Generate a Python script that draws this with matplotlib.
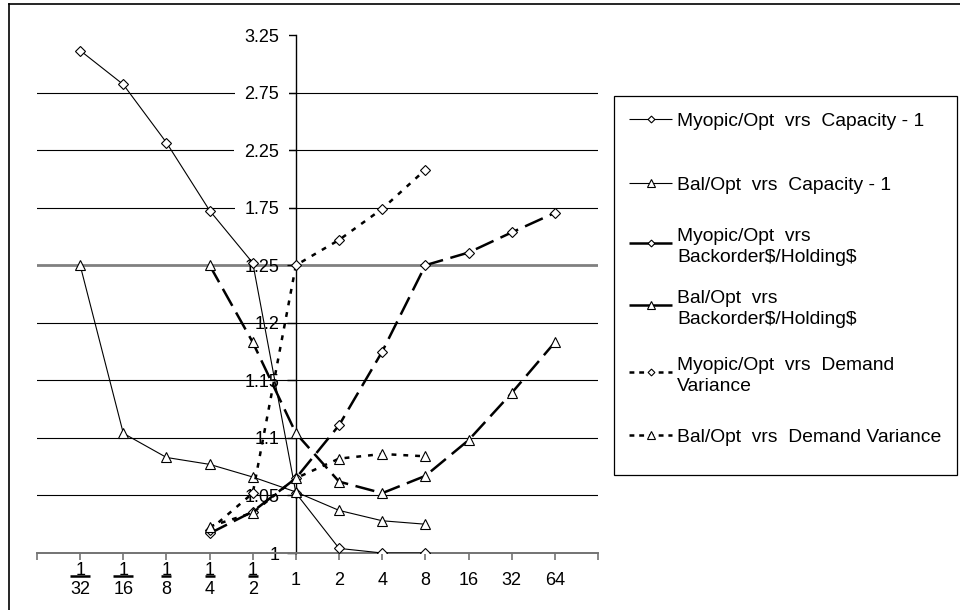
import numpy as np
import matplotlib
matplotlib.use('Agg')
import matplotlib.pyplot as plt
from matplotlib.lines import Line2D
from matplotlib.patches import Rectangle

plt.rcParams['font.family'] = ['Liberation Sans', 'DejaVu Sans']
plt.rcParams['lines.scale_dashes'] = False

# categories on the x axis
x_labels = ['1/32', '1/16', '1/8', '1/4', '1/2', '1', '2', '4', '8', '16', '32', '64']

# y axis levels (broken scale: 0.05 steps up to 1.25, then 0.5 steps)
y_levels = [1, 1.05, 1.1, 1.15, 1.2, 1.25, 1.75, 2.25, 2.75, 3.25]
y_labels = ['1', '1.05', '1.1', '1.15', '1.2', '1.25', '1.75', '2.25', '2.75', '3.25']

# series values
myopic_cap = [3.115, 2.82, 2.315, 1.725, 1.27, 1.052, 1.004, 1.0, 1.0]      # 1/32 .. 8
bal_cap = [1.25, 1.104, 1.083, 1.077, 1.066, 1.053, 1.037, 1.028, 1.025]     # 1/32 .. 8
myopic_bo = [1.017, 1.036, 1.065, 1.111, 1.175, 1.25, 1.36, 1.535, 1.705]    # 1/4 .. 64
bal_bo = [1.25, 1.183, 1.104, 1.062, 1.052, 1.067, 1.098, 1.139, 1.183]      # 1/4 .. 64
myopic_dv = [1.02, 1.052, 1.25, 1.47, 1.74, 2.08]                           # 1/4 .. 8
bal_dv = [1.023, 1.035, 1.065, 1.082, 1.086, 1.084]                         # 1/4 .. 8

series_names = ['Myopic/Opt  vrs  Capacity - 1',
                'Bal/Opt  vrs  Capacity - 1',
                'Myopic/Opt  vrs\nBackorder\\$/Holding\\$',
                'Bal/Opt  vrs\nBackorder\\$/Holding\\$',
                'Myopic/Opt  vrs  Demand\nVariance',
                'Bal/Opt  vrs  Demand Variance']
series_vals = [myopic_cap, bal_cap, myopic_bo, bal_bo, myopic_dv, bal_dv]
series_start = ['1/32', '1/32', '1/4', '1/4', '1/4', '1/4']

long_dash = (0, (14, 5.5))
short_dash = (0, (3.5, 5))
styles = [dict(ls='-', lw=0.8, marker='D', ms=4.8),
          dict(ls='-', lw=0.8, marker='^', ms=7.8),
          dict(ls=long_dash, lw=1.8, marker='D', ms=4.8),
          dict(ls=long_dash, lw=1.8, marker='^', ms=7.8),
          dict(ls=short_dash, lw=1.8, marker='D', ms=4.8),
          dict(ls=short_dash, lw=1.8, marker='^', ms=7.8)]
legend_ls = ['-', '-', '-', '-', (0, (3.5, 3.5)), (0, (3.5, 3.5))]


def fwd(v):
    v = np.asarray(v, dtype=float)
    return np.where(v <= 1.25, (v - 1) / 0.05, 5 + (v - 1.25) / 0.5)


def inv(t):
    t = np.asarray(t, dtype=float)
    return np.where(t <= 5, 1 + 0.05 * t, 1.25 + 0.5 * (t - 5))


fig = plt.figure(figsize=(9.6, 6.1), dpi=100)
W, H = 960, 610
ax = fig.add_axes([37 / W, 1 - 553 / H, 561 / W, 518 / H])
ax.set_yscale('function', functions=(fwd, inv))
ax.set_xlim(-1, 12)
ax.set_ylim(1, 3.25)

for name, vals, start, st in zip(series_names, series_vals, series_start, styles):
    i0 = x_labels.index(start)
    xs = np.arange(i0, i0 + len(vals))
    ax.plot(xs, vals, color='black', mfc='white', mec='black', mew=0.8,
            solid_capstyle='butt', dash_capstyle='butt', zorder=3, **st)

# axes styling
for s in ['top', 'right']:
    ax.spines[s].set_visible(False)
ax.spines['left'].set_position(('data', 5))
ax.spines['left'].set_linewidth(1.0)
ax.spines['bottom'].set_color('0.45')
ax.spines['bottom'].set_linewidth(1.4)
ax.set_axisbelow(True)

ax.set_yticks(y_levels)
ax.set_yticklabels(y_labels)
ax.yaxis.set_minor_locator(matplotlib.ticker.NullLocator())
ax.tick_params(axis='y', direction='out', length=6.5, width=1.0, pad=5.5,
               labelsize=13, colors='black')
ax.grid(axis='y', color='black', lw=0.8)
gl = ax.yaxis.get_gridlines()
gl[0].set_visible(False)
gl[-1].set_visible(False)
gl[5].set_color('0.5')
gl[5].set_linewidth(2.0)
for lab, v in zip(ax.get_yticklabels(), y_levels):
    if v > 1.25:
        lab.set_bbox(dict(boxstyle='square,pad=0.55', fc='white', ec='none'))

# fractions are written as numerator over denominator, bar added below
xt = [''] + [s.replace('/', '\n') for s in x_labels] + ['']
ax.set_xticks(np.arange(-1, 13))
ax.set_xticklabels(xt)
ax.tick_params(axis='x', direction='out', length=5, width=1.2, color='0.45',
               pad=14.5, labelsize=13, labelcolor='black')
for lab in ax.get_xticklabels():
    lab.set_va('center')
    lab.set_linespacing(1.2)

fig.canvas.draw()
renderer = fig.canvas.get_renderer()
for lab in ax.get_xticklabels():
    if '\n' in lab.get_text():
        bb = lab.get_window_extent(renderer)
        yb = (bb.y0 + bb.y1) / 2 + 4
        fig.add_artist(Line2D([bb.x0 / W, bb.x1 / W], [yb / H, yb / H],
                              transform=fig.transFigure, color='black', lw=1.8,
                              solid_capstyle='butt'))

# outer frame (top and left edges only are visible)
fig.add_artist(Line2D([9 / W, 1], [1 - 4 / H, 1 - 4 / H], transform=fig.transFigure,
                      color='black', lw=1.2))
fig.add_artist(Line2D([9 / W, 9 / W], [0, 1 - 4 / H], transform=fig.transFigure,
                      color='black', lw=1.2))

# legend drawn by hand so that handles line up with the first text line
fig.add_artist(Rectangle((614 / W, 1 - 475 / H), (957 - 614) / W, (475 - 96) / H,
                         transform=fig.transFigure, fc='white', ec='black', lw=0.9))
leg_y = [119, 183, 243, 305, 372, 435]
for name, st, lls, py in zip(series_names, styles, legend_ls, leg_y):
    fy = 1 - py / H
    fig.add_artist(Line2D([629 / W, 672 / W], [fy, fy], transform=fig.transFigure,
                          color='black', lw=st['lw'], ls=lls,
                          solid_capstyle='butt', dash_capstyle='butt'))
    fig.add_artist(Line2D([651 / W], [fy], transform=fig.transFigure, marker=st['marker'],
                          ms=st['ms'] * 0.72, mfc='white', mec='black', mew=0.8, ls='none'))
    fig.text(677 / W, fy, name, fontsize=13.9, va='center_baseline', ha='left',
             linespacing=1.3)

fig.savefig('out.png', dpi=100)
